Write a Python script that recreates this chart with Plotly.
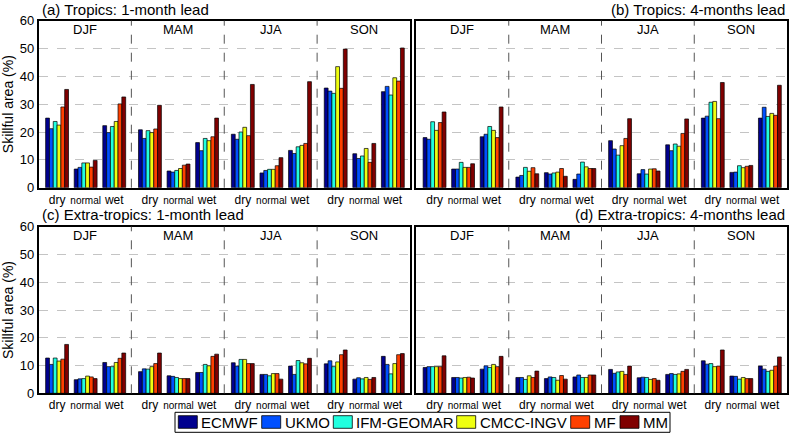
import plotly.graph_objects as go

models = ["ECMWF", "UKMO", "IFM-GEOMAR", "CMCC-INGV", "MF", "MM"]
colors = ["#00008F", "#0050FF", "#20FFDF", "#EFFF10", "#FF4000", "#800000"]
seasons = ["DJF", "MAM", "JJA", "SON"]
categories = ["dry", "normal", "wet"]
yticks = [0, 10, 20, 30, 40, 50, 60]

# one row per model: DJF dry/normal/wet, MAM ..., JJA ..., SON ...
trop_1m = [
    [25.0, 6.7, 22.3, 20.8, 6.0, 16.2, 19.2, 5.3, 13.4, 35.8, 12.2, 34.5],
    [21.2, 7.3, 19.8, 17.7, 5.6, 13.3, 17.4, 6.2, 12.3, 34.7, 10.5, 36.4],
    [23.8, 8.9, 22.0, 20.5, 6.2, 17.7, 20.0, 6.6, 14.7, 33.9, 11.4, 33.3],
    [22.5, 8.9, 23.8, 19.8, 6.9, 16.9, 21.7, 6.6, 15.2, 43.5, 14.1, 39.5],
    [29.0, 7.4, 30.1, 21.1, 8.1, 18.3, 18.7, 7.9, 15.9, 35.7, 9.1, 38.3],
    [35.3, 9.8, 32.6, 29.6, 8.5, 25.0, 37.1, 10.8, 38.1, 49.8, 15.9, 50.2],
]
trop_4m = [
    [18.0, 6.7, 18.3, 3.8, 5.4, 3.0, 16.9, 5.0, 15.4, 25.0, 5.5, 25.0],
    [17.4, 6.7, 19.2, 4.4, 4.9, 4.9, 13.9, 6.5, 13.3, 25.7, 5.6, 28.9],
    [23.7, 9.1, 22.0, 7.3, 5.3, 9.2, 11.7, 4.9, 15.7, 30.7, 7.9, 25.6],
    [20.6, 7.3, 20.6, 5.9, 5.6, 7.5, 15.1, 6.7, 14.9, 31.0, 7.2, 26.7],
    [23.4, 7.3, 18.0, 7.2, 6.9, 6.9, 17.7, 6.8, 19.5, 24.8, 7.7, 26.0],
    [27.2, 8.6, 29.0, 5.0, 4.1, 6.9, 24.8, 6.0, 24.7, 37.8, 8.0, 36.8],
]
extra_1m = [
    [12.7, 4.9, 11.1, 7.8, 6.3, 7.5, 11.0, 6.8, 9.8, 10.6, 5.1, 13.3],
    [10.4, 5.2, 9.6, 8.8, 6.1, 7.5, 9.8, 6.8, 6.8, 11.7, 5.6, 10.4],
    [12.7, 5.3, 9.6, 8.7, 5.7, 10.4, 12.2, 6.3, 11.8, 9.6, 5.2, 7.0],
    [11.6, 6.2, 11.1, 9.6, 5.3, 9.9, 12.2, 7.1, 11.0, 11.3, 5.7, 10.7],
    [12.3, 5.9, 12.6, 10.7, 5.3, 13.3, 10.7, 7.1, 10.6, 13.9, 5.0, 13.9],
    [17.6, 5.3, 14.5, 14.5, 5.3, 14.1, 10.7, 5.1, 12.6, 15.6, 5.7, 14.3],
]
extra_4m = [
    [9.3, 5.7, 8.7, 5.7, 5.3, 5.9, 8.6, 5.6, 6.8, 11.7, 6.2, 9.8],
    [9.6, 5.7, 9.9, 5.7, 5.9, 6.6, 7.2, 5.8, 7.1, 10.5, 6.1, 8.7],
    [9.6, 5.5, 9.3, 5.0, 5.7, 5.7, 7.7, 5.7, 6.8, 10.7, 5.1, 7.9],
    [9.6, 5.7, 10.4, 6.3, 4.7, 5.7, 7.9, 5.0, 7.0, 9.6, 5.7, 8.3],
    [9.6, 5.8, 9.6, 5.7, 6.4, 6.6, 6.8, 5.3, 7.9, 9.8, 5.3, 9.8],
    [13.5, 5.5, 13.3, 8.0, 5.1, 6.6, 9.8, 4.7, 8.6, 15.6, 5.3, 13.1],
]

panels = [
    ("(a) Tropics: 1-month lead", trop_1m),
    ("(b) Tropics: 4-months lead", trop_4m),
    ("(c) Extra-tropics: 1-month lead", extra_1m),
    ("(d) Extra-tropics: 4-months lead", extra_4m),
]

W, H = 789, 435
FONT = "Liberation Sans, Arial, sans-serif"
SEASON_W = 3.25
OFFSET = 0.65

# x position of each group (season, category)
xpos = [s * SEASON_W + OFFSET + c for s in range(len(seasons)) for c in range(len(categories))]
ticktext = [c if c != "normal" else "<span style='font-size:10px'>normal</span>" for c in categories] * len(seasons)

# plot areas in pixels: (left, right, top, bottom)
boxes = [(38.5, 410, 20.7, 187.7), (416, 787, 20.7, 187.7),
         (38.5, 410, 226.7, 393.3), (416, 787, 226.7, 393.3)]

fig = go.Figure()
layout = dict(width=W, height=H, margin=dict(l=0, r=0, t=0, b=0), template="none",
              paper_bgcolor="white", plot_bgcolor="white", showlegend=False,
              barmode="group", bargap=0.2, bargroupgap=0.0,
              font=dict(family=FONT, color="black"))
shapes = []
annotations = []

for p, (title, data) in enumerate(panels):
    sfx = "" if p == 0 else str(p + 1)
    xa, ya = "x" + sfx, "y" + sfx
    for m, name in enumerate(models):
        fig.add_trace(go.Bar(x=xpos, y=data[m], name=name, xaxis=xa, yaxis=ya,
                             offsetgroup=str(m),
                             marker=dict(color=colors[m], line=dict(color="black", width=0.7))))
    l, r, t, b = boxes[p]
    left_col = p % 2 == 0
    layout["xaxis" + sfx] = dict(domain=[l / W, r / W], range=[0, SEASON_W * len(seasons)],
                                 anchor=ya, showgrid=False, zeroline=False,
                                 showline=True, mirror=True, linecolor="black", linewidth=1.5,
                                 tickvals=xpos, ticktext=ticktext, ticks="",
                                 tickfont=dict(size=12), automargin=False)
    layout["yaxis" + sfx] = dict(domain=[1 - b / H, 1 - t / H], range=[0, 60], anchor=xa,
                                 tickvals=yticks, showticklabels=left_col,
                                 tickfont=dict(size=13), ticks="",
                                 showgrid=True, gridcolor="#c4c4c4", griddash="dash", gridwidth=1,
                                 zeroline=False, showline=True, mirror=True,
                                 linecolor="black", linewidth=1.5, automargin=False,
                                 title=dict(text="Skillful area (%)" if left_col else "",
                                            font=dict(size=14), standoff=4))
    # season dividers and labels
    for s in range(len(seasons)):
        if s > 0:
            shapes.append(dict(type="line", xref=xa, yref=ya + " domain",
                               x0=s * SEASON_W, x1=s * SEASON_W, y0=0, y1=1,
                               line=dict(color="#555555", width=1, dash="dash")))
        annotations.append(dict(text=seasons[s], xref=xa, yref=ya + " domain",
                                x=s * SEASON_W + SEASON_W / 2, y=0.95, showarrow=False,
                                font=dict(size=13), xanchor="center", yanchor="middle"))
    # panel title
    ty = 10 if p < 2 else 215
    annotations.append(dict(text=title, xref="paper", yref="paper",
                            x=(l + 1) / W if left_col else r / W, y=1 - ty / H,
                            xanchor="left" if left_col else "right", yanchor="middle",
                            showarrow=False, font=dict(size=15)))

# custom legend box at the bottom
leg_x = [178.3, 261.7, 333.3, 456.7, 570.7, 620.0]
shapes.append(dict(type="rect", xref="paper", yref="paper",
                   x0=175 / W, x1=670 / W, y0=1 - 432.3 / H, y1=1 - 412.3 / H,
                   line=dict(color="black", width=1), fillcolor="white"))
for m, name in enumerate(models):
    x0 = leg_x[m]
    shapes.append(dict(type="rect", xref="paper", yref="paper",
                       x0=x0 / W, x1=(x0 + 19) / W, y0=1 - 428.3 / H, y1=1 - 415.7 / H,
                       line=dict(color="black", width=0.8), fillcolor=colors[m]))
    annotations.append(dict(text=name, xref="paper", yref="paper",
                            x=(x0 + 21) / W, y=1 - 422.3 / H, xanchor="left", yanchor="middle",
                            showarrow=False, font=dict(size=15)))

layout["shapes"] = shapes
layout["annotations"] = annotations
fig.update_layout(**layout)

fig.write_html("out.html", config={"displayModeBar": False},
               post_script="document.body.style.margin='0px';document.body.style.overflow='hidden';")
